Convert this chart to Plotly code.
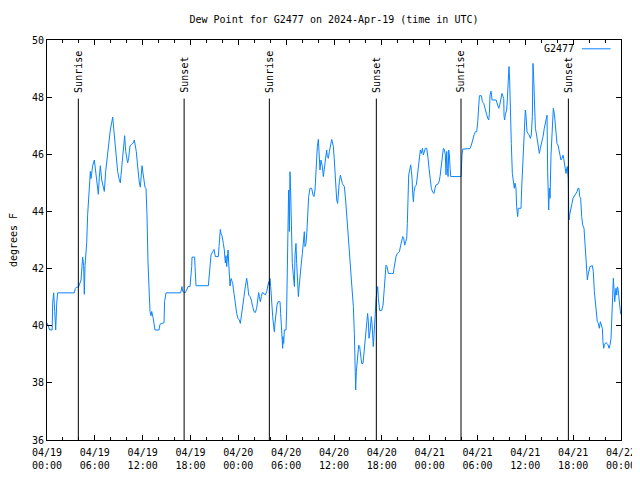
import pandas as pd
import plotly.graph_objects as go

# ---- data ----
start_time = "2024-04-19 00:00"
end_time = "2024-04-22 00:00"

hours_utc = [
    0.00, 0.10, 0.20, 0.35, 0.65, 0.71, 0.84, 0.97, 1.09, 1.22, 1.34, 3.43, 3.55, 3.70, 3.95,
    4.27, 4.43, 4.47, 4.60, 4.68, 4.77, 4.98, 5.10, 5.23, 5.35, 5.44, 5.52, 5.60, 5.73, 5.94,
    6.10, 6.27, 6.36, 6.44, 6.56, 6.69, 6.86, 7.02, 7.19, 7.36, 7.53, 7.61, 7.78, 7.94, 8.11,
    8.24, 8.32, 8.45, 8.61, 8.74, 8.86, 9.03, 9.20, 9.28, 9.41, 9.53, 9.62, 9.74, 9.87, 10.00,
    10.12, 10.24, 10.41, 10.62, 10.83, 10.95, 11.08, 11.20, 11.33, 11.46, 11.58, 11.71, 11.79,
    11.92, 12.04, 12.17, 12.29, 12.42, 12.54, 12.67, 12.80, 12.92, 13.05, 13.13, 13.30, 13.42,
    13.55, 14.05, 14.17, 14.59, 14.68, 14.75, 14.93,
    16.77, 16.85, 16.93, 17.02, 17.31, 17.52, 17.69, 17.94, 18.02, 18.15, 18.19, 18.52, 18.57,
    18.69, 20.24, 20.32, 20.45, 20.57, 20.78, 20.95, 21.12, 21.49, 21.58, 21.66, 21.74, 21.83,
    21.95, 22.12, 22.24, 22.37, 22.45, 22.54, 22.62, 22.71, 22.79, 22.87, 22.96, 23.04, 23.12,
    23.21, 23.29, 23.46, 23.62, 23.79, 23.96, 24.13, 24.25, 24.34, 24.46, 24.54, 24.71, 24.88,
    25.05, 25.17, 25.30, 25.46, 25.63, 25.80, 25.97, 26.13, 26.30, 26.43, 26.55, 26.64, 26.76,
    26.89, 27.01, 27.22, 27.39, 27.56, 27.68, 27.81, 27.89, 27.97, 28.06, 28.18, 28.31, 28.43,
    28.52,
    28.60, 28.73, 28.85, 28.98, 29.23, 29.31, 29.39, 29.48, 29.56, 29.60, 29.69, 29.77, 29.98,
    30.06, 30.15, 30.23, 30.31, 30.40, 30.48, 30.57, 30.65, 30.77, 30.90, 31.03, 31.11, 31.23,
    31.32, 31.44, 31.53, 31.61, 31.74, 31.86, 32.03, 32.15, 32.28, 32.36, 32.49, 32.61, 32.70,
    32.82, 32.99, 33.20, 33.37, 33.49, 33.62, 33.70, 33.83, 33.91, 34.04, 34.12, 34.24, 34.37,
    34.54, 34.66, 34.79, 34.96, 35.08, 35.16, 35.29, 35.42, 35.54, 35.71, 35.79, 35.92, 36.04,
    36.13, 36.21, 36.34, 36.46, 36.54, 36.67, 36.80, 36.92, 37.05, 37.17, 37.30, 37.46, 37.63,
    37.80, 37.92, 38.05, 38.18, 38.30, 38.43, 38.55, 38.64, 38.72, 38.80, 38.89, 38.97, 39.10,
    39.22, 39.35, 39.47, 39.64, 39.76, 39.89, 39.97, 40.10, 40.22, 40.31, 40.39, 40.52, 40.60,
    40.68, 40.77, 40.85, 40.93, 41.02, 41.10, 41.14, 41.27, 41.35, 41.48, 41.56, 41.65, 41.73,
    41.98, 42.15, 42.31, 42.44, 42.52, 42.65, 42.82, 43.23,
    43.45, 43.53, 43.66, 43.78, 43.95, 44.20, 44.37, 44.49, 44.62, 44.74, 44.87, 44.99, 45.12,
    45.20, 45.29, 45.37, 45.50, 45.62, 45.71, 45.79, 45.87, 45.96, 46.04, 46.17, 46.33, 46.46,
    46.58, 46.71, 46.83, 46.96, 47.09, 47.21, 47.34, 47.46, 47.63, 47.71, 47.80, 47.92, 48.05,
    48.21, 48.38, 48.55, 48.67, 48.80, 49.01, 49.18, 49.30, 49.43, 49.55, 49.72, 49.85, 49.97,
    50.05, 50.14, 50.22, 50.31, 50.39, 50.47, 50.56, 50.64, 51.94, 51.98, 52.06, 52.15, 53.06,
    53.23, 53.36, 53.57, 53.73, 53.90, 54.03, 54.15, 54.24, 54.49, 54.61, 54.78, 54.91, 55.03,
    55.16, 55.28, 55.41, 55.49, 55.57, 55.70, 55.83, 56.33, 56.49, 56.66, 56.79, 56.91, 57.08,
    57.20, 57.29, 57.33,
    57.40, 57.50, 57.66, 57.74, 57.83, 57.95, 58.04, 58.12, 58.24, 58.37, 58.50, 58.62, 58.70,
    58.83, 58.91, 59.04, 59.12, 59.46, 59.54, 59.67, 59.75, 59.88, 60.00, 60.08, 60.21, 60.34,
    60.46, 60.63, 60.75, 60.88, 60.96, 61.05, 61.13, 61.26, 61.38, 61.51, 61.63, 61.76, 61.88,
    62.05, 62.22, 62.38, 62.51, 62.63, 62.72, 62.80, 62.93, 63.01, 63.10, 63.22, 63.35, 63.51,
    63.64, 63.72, 63.85, 63.97, 64.10, 64.22, 64.35, 64.47, 64.60, 64.73, 64.81, 64.89, 65.02,
    65.10, 65.19, 65.27, 65.35, 65.39, 65.44, 65.48, 65.56, 65.65, 65.73, 65.85, 65.98, 66.11,
    66.23, 66.48, 66.61, 66.73, 66.82, 66.94, 67.07, 67.19, 67.36, 67.49, 67.57, 67.69, 67.78,
    67.86, 67.99, 68.11, 68.41, 68.53, 68.66, 68.78, 68.91, 69.03, 69.16, 69.28, 69.41, 69.53,
    69.66, 69.74, 69.83, 69.91, 69.99, 70.12, 70.24, 70.37, 70.50, 70.62, 70.75, 70.83, 70.96,
    71.04, 71.12, 71.21, 71.29, 71.37, 71.46, 71.54, 71.62, 71.71, 71.79, 71.87, 71.96,
]

dew_point_f = [
    40.10, 40.05, 39.95, 39.85, 39.85, 40.80, 41.15, 40.50, 39.85, 40.80, 41.15, 41.15, 41.30, 41.35, 41.35,
    41.60, 42.10, 42.40, 42.10, 41.10, 42.10, 42.90, 43.90, 44.60, 45.10, 45.40, 45.15, 45.30, 45.60, 45.80,
    45.40, 44.90, 44.75, 44.60, 45.20, 45.60, 45.10, 44.90, 44.70, 45.40, 45.80, 46.10, 46.55, 46.85, 47.10,
    47.30, 47.05, 46.60, 46.10, 45.60, 45.40, 45.15, 45.00, 45.25, 45.70, 46.10, 46.50, 46.65, 46.10, 45.90,
    45.70, 45.85, 46.30, 46.35, 46.40, 46.50, 46.35, 46.10, 45.70, 45.30, 45.00, 44.85, 45.30,
    45.60, 45.35, 45.05, 44.85, 44.80, 43.90, 42.20, 41.10, 40.50, 40.35, 40.50, 40.30, 40.00,
    39.85, 39.85, 40.05, 40.10, 40.10, 40.85, 41.15,
    41.15, 41.37, 41.37, 41.20, 41.15, 41.25, 41.37, 41.37, 41.60, 42.07, 42.40, 42.40, 42.07,
    41.40, 41.40, 41.62, 42.12, 42.47, 42.59, 42.67, 42.42, 42.42, 42.77, 43.12, 43.37, 43.23,
    43.15, 42.88, 42.65, 42.20, 42.45, 42.07, 42.35, 42.65, 42.20, 41.72, 41.39, 41.60, 41.65,
    41.55, 41.48, 41.13, 40.67, 40.43, 40.26, 40.20, 40.08, 40.30, 40.55, 40.78, 41.02, 41.37,
    41.66, 41.42, 41.07, 41.02, 40.90, 40.67, 40.49, 40.46, 40.61, 40.90, 41.16, 41.02, 40.84,
    41.02, 41.16, 41.13, 41.07, 41.20, 41.37, 41.54, 41.42, 41.66, 41.37, 40.72, 40.32, 39.97,
    39.79,
    40.10, 40.50, 40.72, 40.84, 40.84, 40.43, 39.97, 39.62, 39.21, 39.62, 39.38, 39.85, 39.85,
    40.55, 41.89, 43.35, 44.75, 43.30, 45.39, 44.60, 43.29, 42.18, 41.77, 41.37, 42.47, 42.88,
    42.18, 41.48, 41.02, 41.31, 41.60, 42.07, 42.53, 43.06, 43.29, 42.77, 42.88, 43.35, 43.93,
    44.52, 44.81, 44.81, 44.57, 44.52, 44.75, 45.22, 45.80, 46.27, 46.52, 45.74, 45.45, 45.80,
    45.57, 45.22, 45.57, 45.86, 46.15, 45.92, 45.86, 46.09, 46.33, 46.52, 46.44, 46.27, 45.80,
    45.27, 44.87, 44.40, 44.28, 44.75, 45.04, 45.27, 45.10, 44.98, 44.92, 44.87, 44.40, 43.82,
    43.17, 42.65, 42.12, 41.60, 41.13, 40.67, 39.73, 38.80, 37.75, 38.39, 38.68, 39.03, 39.32,
    39.27, 38.86, 38.68, 38.68, 39.03, 39.38, 39.79, 40.20, 40.43, 40.14, 39.56, 39.79, 40.20,
    40.32, 40.08, 39.56, 39.27, 39.68, 40.20, 40.37, 40.90, 41.13, 41.37, 40.96, 40.72, 40.53,
    40.53, 40.72, 41.31, 41.83, 42.12, 42.07, 41.83, 41.83,
    41.83, 42.01, 42.24, 42.42, 42.53, 42.59, 42.82, 43.00, 43.12, 43.06, 42.82, 42.94, 43.06,
    43.58, 44.69, 45.28, 45.45, 45.63, 45.40, 45.16, 44.63, 44.34, 44.69, 44.87, 44.93, 45.28,
    45.68, 45.98, 46.15, 46.03, 46.21, 45.98, 46.10, 46.21, 46.21, 46.10, 45.86, 45.51, 45.10,
    44.81, 44.67, 44.63, 44.81, 44.93, 44.95, 45.04, 45.22, 45.51, 45.98, 46.21, 46.15, 45.98,
    45.28, 46.10, 45.51, 45.22, 46.15, 45.98, 45.51, 45.22, 45.22, 45.57, 45.98, 46.18, 46.20,
    46.32, 46.50, 46.68, 46.79, 46.79, 47.14, 47.72, 48.05, 48.05, 47.84, 47.78, 47.67, 47.55,
    47.38, 47.26, 47.20, 47.43, 48.07, 48.21, 47.90, 47.90, 47.78, 47.61, 47.73, 47.96, 48.13,
    48.02, 47.96, 47.32,
    47.20, 47.40, 47.55, 47.90, 48.66, 49.07, 48.54, 47.37, 46.38, 45.33, 45.04, 44.81, 44.99,
    44.81, 44.17, 43.82, 44.11, 44.11, 44.81, 45.63, 46.50, 46.97, 47.55, 47.37, 46.79, 46.73,
    46.68, 46.56, 46.68, 47.32, 49.18, 48.66, 47.78, 46.91, 46.73, 46.50, 46.15, 46.03, 46.21,
    46.38, 46.62, 46.91, 47.14, 47.26, 47.37, 45.39, 44.05, 44.81, 44.46, 45.97, 46.85, 47.61,
    47.43, 47.20, 46.85, 46.38, 46.32, 46.15, 45.97, 45.80, 45.86, 45.97, 45.86, 45.68, 45.45,
    45.33, 45.51, 45.57, 45.28, 45.16, 44.11, 43.70, 43.88, 44.05, 44.17, 44.28, 44.46, 44.52,
    44.58, 44.69, 44.81, 44.81, 44.52, 44.46, 43.82, 43.53, 43.41, 42.83, 42.30, 41.83, 41.60,
    41.77, 41.89, 42.07, 42.10, 41.89, 41.19, 40.84, 40.61, 40.14, 40.08, 39.91, 40.14, 40.02,
    39.91, 39.44, 39.21, 39.33, 39.38, 39.41, 39.38, 39.33, 39.21, 39.33, 39.56, 40.02, 40.84,
    41.66, 41.31, 40.84, 41.07, 41.31, 41.07, 41.36, 41.31, 41.07, 40.84, 40.61, 40.40,
]

event_names = ["Sunrise", "Sunset", "Sunrise", "Sunset", "Sunrise", "Sunset"]
event_hours = [3.93, 17.20, 27.89, 41.31, 51.93, 65.40]
event_top_f = 47.95

series_name = "G2477"
title_text = "Dew Point for G2477 on 2024-Apr-19 (time in UTC)"
y_title = "degrees F"
y_range = [36, 50]

# ---- build ----
base = pd.Timestamp(start_time)
times = [base + pd.Timedelta(hours=h) for h in hours_utc]
event_times = [base + pd.Timedelta(hours=h) for h in event_hours]

FONT = "DejaVu Sans Mono"
LINE_COLOR = "#0a84ff"

# The page has an 8px body margin, so the figure is 632x472 and offset accordingly.
W, H = 632, 472

fig = go.Figure()
fig.add_trace(go.Scatter(x=times, y=dew_point_f, mode="lines", name=series_name,
                         line=dict(color=LINE_COLOR, width=1), showlegend=False))

for name, t in zip(event_names, event_times):
    fig.add_shape(type="line", xref="x", yref="y", x0=t, x1=t, y0=y_range[0], y1=event_top_f,
                  line=dict(color="black", width=1))
    fig.add_annotation(x=t, y=event_top_f, xref="x", yref="y", text=name, textangle=-90,
                       showarrow=False, xanchor="center", yanchor="bottom", yshift=4,
                       font=dict(family=FONT, size=10, color="black"))

# legend (text left, sample line right, as in the reference)
fig.add_annotation(x=0.921, y=0.978, xref="paper", yref="paper", text=series_name,
                   showarrow=False, xanchor="right", yanchor="middle",
                   font=dict(family=FONT, size=10, color="black"))
fig.add_shape(type="line", xref="paper", yref="paper", x0=0.932, x1=0.982, y0=0.978, y1=0.978,
              line=dict(color=LINE_COLOR, width=1))

fig.update_layout(
    width=W, height=H,
    margin=dict(l=39, r=19, t=32, b=40),
    paper_bgcolor="white", plot_bgcolor="white",
    font=dict(family=FONT, size=10, color="black"),
    title=dict(text=title_text, x=0.5, xref="paper", xanchor="center",
               y=1 - 11 / H, yref="container", yanchor="middle",
               font=dict(family=FONT, size=10, color="black")),
)

fig.update_xaxes(
    type="date", range=[base, pd.Timestamp(end_time)], automargin=False,
    tick0=base, dtick=6 * 3600 * 1000, tickformat="%m/%d<br>%H:%M",
    ticks="inside", ticklen=5, tickcolor="black", tickwidth=1,
    ticklabelstandoff=3,
    showline=True, linecolor="black", linewidth=1, mirror="ticks",
    showgrid=False, zeroline=False,
    minor=dict(dtick=2 * 3600 * 1000, ticks="inside", ticklen=3, tickcolor="black", showgrid=False),
    tickfont=dict(family=FONT, size=10, color="black"),
)
fig.update_yaxes(
    range=y_range, dtick=2, tick0=36, automargin=False,
    ticks="inside", ticklen=5, tickcolor="black", tickwidth=1,
    showline=True, linecolor="black", linewidth=1, mirror="ticks",
    showgrid=False, zeroline=False,
    title=dict(text=y_title, standoff=16, font=dict(family=FONT, size=10, color="black")),
    tickfont=dict(family=FONT, size=10, color="black"),
)

fig.write_html("out.html")
